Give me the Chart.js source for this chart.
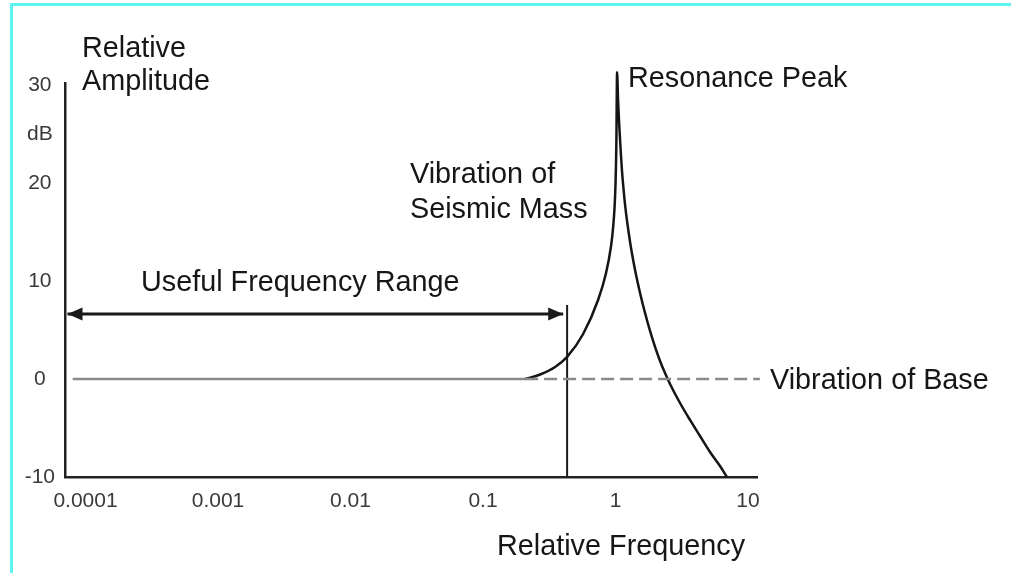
<!DOCTYPE html>
<html>
<head>
<meta charset="utf-8">
<script src="https://cdn.jsdelivr.net/npm/chart.js@4.4.1/dist/chart.umd.min.js"></script>
<style>
  html, body { margin: 0; padding: 0; background: #fff; }
  #wrap { position: relative; width: 1011px; height: 573px; overflow: hidden; background: #fff; }
  #wrap canvas { position: absolute; left: 0; top: 0; }
  #frame { position: absolute; left: 10px; top: 3px; right: 0; bottom: 0;
           border-top: 3px solid #60f4f4; border-left: 3px solid #60f4f4; pointer-events: none; }
</style>
</head>
<body>
<div id="wrap">
  <canvas id="chart" width="1011" height="573"></canvas>
  <div id="frame"></div>
</div>
<script>
// Relative frequency axis (log scale)
const freqTicks = [0.0001, 0.001, 0.01, 0.1, 1, 10];
const freqTickLabels = ['0.0001', '0.001', '0.01', '0.1', '1', '10'];

// Relative amplitude axis (dB); the unit sits between 20 and 30
const ampTicks = [-10, 0, 10, 20, 25, 30];
const ampTickLabels = ['-10', '0', '10', '20', 'dB', '30'];

// Vibration of the seismic mass: rising side, resonance peak, falling side
const massFreq = [0.208, 0.270, 0.350, 0.4315, 0.570, 0.739, 0.849, 0.926, 0.959, 0.9845, 1.0017, 1.0158, 1.028,
                  1.0462, 1.0645, 1.0832, 1.1022, 1.1214, 1.141, 1.1815, 1.2886, 1.4055, 1.5329, 1.6718,
                  1.8235, 1.9888, 2.169, 2.3657, 2.5801, 3.0696, 3.6522, 4.3451, 5.1695, 6.1504, 6.9447];
const massDb   = [0, 0.46, 1.22, 2.25, 4.59, 8.06, 10.82, 13.57, 15.41, 17.55, 20.1, 24.18, 31.3,
                  28.47, 26.22, 24.39, 22.65, 21.12, 19.9, 17.76, 13.98, 11.12, 8.78, 6.73,
                  4.9, 3.27, 1.84, 0.61, -0.51, -2.45, -4.18, -5.82, -7.45, -8.88, -10];

// Vibration of the base: flat 0 dB, solid below resonance, dashed beyond
const baseSolidFreq = [0.00008, 0.208];
const baseSolidDb = [0, 0];
const baseDashFreq = [0.208, 12.3];
const baseDashDb = [0, 0];

// Useful frequency range arrow and its upper limit marker
const rangeFreq = [0.0000731, 0.403];
const rangeDb = [6.63, 6.63];
const limitFreq = [0.4315, 0.4315];
const limitDb = [-10, 7.55];

const pts = (xs, ys) => xs.map((x, i) => ({ x, y: ys[i] }));

const FONT = '"Liberation Sans", Arial, Helvetica, sans-serif';
Chart.defaults.font.family = FONT;

function arrowHead(ctx, x, y, dir) {
  ctx.beginPath();
  ctx.moveTo(x, y);
  ctx.lineTo(x - dir * 15, y - 6.5);
  ctx.lineTo(x - dir * 15, y + 6.5);
  ctx.closePath();
  ctx.fill();
}

const annotations = {
  id: 'annotations',
  afterDatasetsDraw(chart) {
    const ctx = chart.ctx;
    ctx.save();
    // arrow heads on both ends of the useful range
    const range = chart.getDatasetMeta(3).data;
    ctx.fillStyle = '#1a1a1a';
    arrowHead(ctx, range[0].x, range[0].y, -1);
    arrowHead(ctx, range[range.length - 1].x, range[range.length - 1].y, 1);

    ctx.font = '28.8px ' + FONT;
    ctx.fillStyle = '#161616';
    ctx.textAlign = 'left';
    ctx.textBaseline = 'alphabetic';
    ctx.fillText('Relative', 82, 57);
    ctx.fillText('Amplitude', 82, 90);
    ctx.fillText('Resonance Peak', 628, 87);
    ctx.fillText('Vibration of', 410, 183);
    ctx.fillText('Seismic Mass', 410, 218);
    ctx.fillText('Useful Frequency Range', 141, 291);
    ctx.fillText('Vibration of Base', 770, 389);
    ctx.fillText('Relative Frequency', 497, 555);
    ctx.restore();
  }
};

new Chart(document.getElementById('chart'), {
  type: 'line',
  data: {
    datasets: [
      { data: pts(baseSolidFreq, baseSolidDb), borderColor: '#8a8a8a', borderWidth: 2.5 },
      { data: pts(baseDashFreq, baseDashDb), borderColor: '#8a8a8a', borderWidth: 2.5, borderDash: [13, 6] },
      { data: pts(massFreq, massDb), borderColor: '#151515', borderWidth: 2.5, cubicInterpolationMode: 'monotone' },
      { data: pts(rangeFreq, rangeDb), borderColor: '#1a1a1a', borderWidth: 3 },
      { data: pts(limitFreq, limitDb), borderColor: '#1a1a1a', borderWidth: 2 }
    ].map(d => Object.assign({ pointRadius: 0, fill: false, clip: false }, d))
  },
  options: {
    responsive: false,
    animation: false,
    devicePixelRatio: 1,
    layout: { padding: { left: 0, top: 83, right: 254, bottom: 0 } },
    plugins: { legend: { display: false }, tooltip: { enabled: false } },
    scales: {
      x: {
        type: 'logarithmic',
        min: 0.0000706,
        max: 11.7,
        grid: { display: false },
        border: { display: true, color: '#222', width: 2.5 },
        ticks: {
          autoSkip: false, maxRotation: 0, padding: 4,
          color: '#3a3a3a', font: { size: 21 },
          callback: (v, i) => freqTickLabels[i]
        },
        afterBuildTicks: s => { s.ticks = freqTicks.map(v => ({ value: v })); },
        afterFit: s => { s.height = 96; }
      },
      y: {
        type: 'linear',
        min: -10,
        max: 30.2,
        grid: { display: false },
        border: { display: true, color: '#222', width: 2.5 },
        ticks: {
          crossAlign: 'center', padding: 2,
          color: '#3a3a3a', font: { size: 21 },
          callback: (v, i) => ampTickLabels[i]
        },
        afterBuildTicks: s => { s.ticks = ampTicks.map(v => ({ value: v })); },
        afterFit: s => { s.width = 65; }
      }
    }
  },
  plugins: [annotations]
});
</script>
</body>
</html>
